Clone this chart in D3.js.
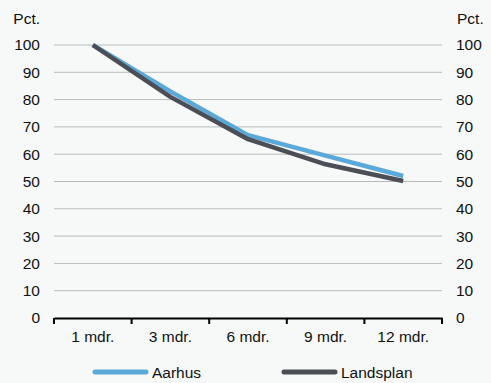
<!DOCTYPE html>
<html><head><meta charset="utf-8">
<script src="https://cdn.jsdelivr.net/npm/d3@7"></script>
<style>
html,body{margin:0;padding:0;background:#f7f9f9;}
svg{display:block;font-family:"Liberation Sans",Arial,sans-serif;}
</style></head>
<body><svg id="c" width="491" height="383"></svg>
<script>
const categories = ["1 mdr.","3 mdr.","6 mdr.","9 mdr.","12 mdr."];
const aarhus = [100, 83, 67, 59.5, 52];
const landsplan = [100, 81, 65.5, 56.3, 50.2];
const yTicks = [0,10,20,30,40,50,60,70,80,90,100];
const seriesNames = ["Aarhus","Landsplan"];
const colors = ["#5aa9d8","#4b4e55"];

const FS = 15.5;
const FF = "Liberation Sans, Arial, sans-serif";
const svg = d3.select("#c");
const L = 54, R = 442, T = 45, B = 318;
const x = d3.scaleBand().domain(categories).range([L, R]);
const y = d3.scaleLinear().domain([0,100]).range([B, T]);

// gridlines
svg.append("g").selectAll("line").data(yTicks.filter(d=>d>0)).join("line")
  .attr("x1",L).attr("x2",R).attr("y1",d=>y(d)).attr("y2",d=>y(d))
  .attr("stroke","#b9bbbb").attr("stroke-width",1);

function styleText(g){ g.selectAll("text").attr("font-size",FS).attr("fill","#111").attr("font-family",FF); }

const yl = svg.append("g").attr("transform",`translate(${L},0)`)
  .call(d3.axisLeft(y).tickValues(yTicks).tickSize(0).tickPadding(14));
yl.select(".domain").remove(); yl.attr("font-size",FS); styleText(yl);
const yr = svg.append("g").attr("transform",`translate(${R},0)`)
  .call(d3.axisRight(y).tickValues(yTicks).tickSize(0).tickPadding(14));
yr.select(".domain").remove(); yr.attr("font-size",FS); styleText(yr);

svg.append("text").attr("x",40).attr("y",24).attr("text-anchor","end").attr("font-size",FS).attr("fill","#111").text("Pct.");
svg.append("text").attr("x",457).attr("y",24).attr("text-anchor","start").attr("font-size",FS).attr("fill","#111").text("Pct.");

// x axis
const xa = svg.append("g").attr("transform",`translate(0,${B})`)
  .call(d3.axisBottom(x).tickSize(0).tickPadding(13));
xa.select(".domain").attr("stroke","#000").attr("stroke-width",2);
xa.attr("font-size",FS); styleText(xa);
const bounds = categories.map(c=>x(c)).concat([R]);
svg.append("g").selectAll("line").data(bounds).join("line")
  .attr("x1",d=>d).attr("x2",d=>d).attr("y1",B).attr("y2",B+6)
  .attr("stroke","#000").attr("stroke-width",2);

// lines
const line = d3.line().x((d,i)=>x(categories[i])+x.bandwidth()/2).y(d=>y(d));
[aarhus, landsplan].forEach((s,i)=>{
  svg.append("path").datum(s).attr("d",line).attr("fill","none")
    .attr("stroke",colors[i]).attr("stroke-width",4.5).attr("stroke-linejoin","round");
});

// legend
const lg = [{x:95, name:seriesNames[0], c:colors[0]},{x:284, name:seriesNames[1], c:colors[1]}];
lg.forEach(d=>{
  svg.append("line").attr("x1",d.x).attr("x2",d.x+51).attr("y1",372).attr("y2",372)
    .attr("stroke",d.c).attr("stroke-width",5).attr("stroke-linecap","round");
  svg.append("text").attr("x",d.x+57).attr("y",377.5).attr("font-size",FS).attr("fill","#111").text(d.name);
});
</script></body></html>
